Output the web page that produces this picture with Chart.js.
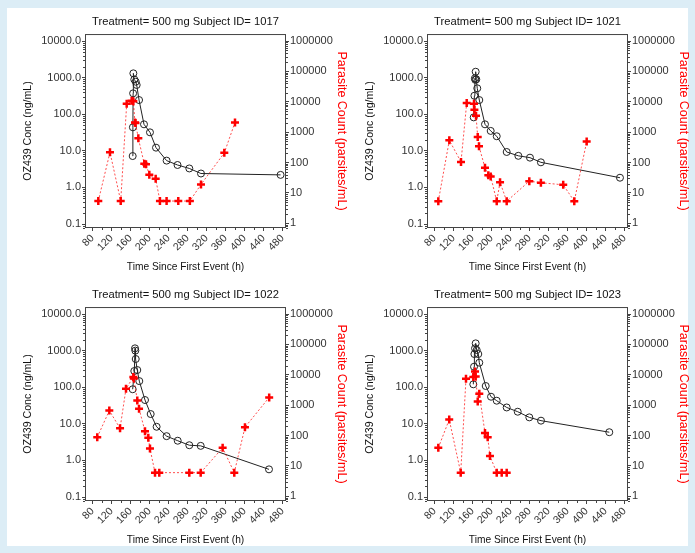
<!DOCTYPE html>
<html>
<head>
<meta charset="utf-8">
<script src="https://cdn.jsdelivr.net/npm/chart.js@4.4.0/dist/chart.umd.min.js"></script>
<style>
  html, body { margin: 0; padding: 0; }
  body { width: 695px; height: 553px; background: #dcedf6; position: relative; overflow: hidden; }
  #sheet { position: absolute; left: 7px; top: 8px; width: 681px; height: 538px; background: #fff; }
  .panel { position: absolute; width: 352px; height: 276px; }
</style>
</head>
<body>
<div id="sheet"></div>
<div class="panel" style="left:0px;top:0px"><canvas id="c1017" width="352" height="276"></canvas></div>
<div class="panel" style="left:342px;top:0px"><canvas id="c1021" width="352" height="276"></canvas></div>
<div class="panel" style="left:0px;top:273px"><canvas id="c1022" width="352" height="276"></canvas></div>
<div class="panel" style="left:342px;top:273px"><canvas id="c1023" width="352" height="276"></canvas></div>
<script>
// tick labels
const xTicks = [80, 120, 160, 200, 240, 280, 320, 360, 400, 440, 480];
const xMinor = [100, 140, 180, 220, 260, 300, 340, 380, 420, 460];
const concTicks = [0.1, 1, 10, 100, 1000, 10000];
const parTicks = [1, 10, 100, 1000, 10000, 100000, 1000000];

// Subject 1017
const concTime1017 = [164.6, 165.0, 165.5, 166.0, 168.0, 171.0, 173.0, 178.0, 188.4, 201.0, 213.7, 236.0, 259.0, 283.8, 308.4, 476.0];
const conc1017 = [7.2, 43.9, 372, 1310, 890, 773, 630, 244, 53, 32, 12.2, 5.4, 4.1, 3.3, 2.4, 2.2];
const parTime1017 = [92.2, 116.8, 139.4, 152.0, 162.5, 166.0, 169.5, 170.5, 176.5, 189.0, 192.6, 199.6, 213.0, 222.0, 236.0, 260.6, 285.0, 308.4, 357.5, 380.0];
const par1017 = [5.4, 218, 5.4, 8590, 10800, 10400, 2094, 2000, 627, 90.6, 88, 39.5, 29, 5.4, 5.4, 5.4, 5.4, 19, 208, 2094];

// Subject 1021
const concTime1021 = [162.5, 164.0, 165.0, 166.0, 166.7, 168.0, 170.0, 174.3, 186.3, 198.3, 211.0, 232.0, 256.5, 281.0, 304.0, 470.5];
const conc1021 = [82, 320, 955, 870, 1450, 900, 511, 244, 53, 35, 25, 9.3, 7.3, 6.5, 4.85, 1.84];
const parTime1021 = [88.0, 111.2, 135.8, 147.8, 163.2, 164.0, 167.4, 171.0, 173.7, 186.3, 193.3, 198.3, 211.0, 218.0, 232.0, 279.6, 304.0, 351.0, 374.3, 400.4];
const par1021 = [5.3, 538, 105, 9060, 8600, 5470, 3470, 697, 342, 67, 38, 35, 5.3, 22.6, 5.3, 24.4, 21.6, 18.5, 5.3, 489];

// Subject 1022
const concTime1022 = [164.6, 168.0, 169.5, 170.2, 171.0, 174.3, 178.5, 190.5, 202.5, 215.0, 236.0, 259.4, 283.8, 307.8, 451.6];
const conc1022 = [88, 277, 1155, 1000, 590, 295, 147, 44.7, 18.5, 8.3, 4.6, 3.45, 2.6, 2.5, 0.57];
const parTime1022 = [90.0, 115.4, 138.0, 150.5, 166.0, 167.0, 174.3, 178.0, 190.5, 197.5, 201.0, 211.6, 220.6, 283.8, 307.8, 354.0, 378.5, 401.0, 452.0];
const par1022 = [88, 661, 173, 3470, 8400, 7500, 1430, 767, 138, 84, 37.5, 6, 6, 6, 6, 39.5, 6, 187, 1800];

// Subject 1023
const concTime1023 = [161.7, 163.2, 164.0, 165.3, 166.7, 168.8, 172.2, 174.3, 187.8, 199.0, 211.0, 232.0, 255.2, 279.6, 304.2, 448.0];
const conc1023 = [120, 363, 807, 1155, 1580, 1040, 807, 468, 108, 55, 42.8, 28, 21.4, 15, 12.2, 5.9];
const parTime1023 = [88.0, 111.0, 135.2, 146.3, 161.7, 165.3, 166.7, 171.0, 174.3, 186.3, 192.0, 196.8, 211.0, 221.5, 232.0];
const par1023 = [39.5, 335, 6, 7400, 8400, 12800, 8800, 1330, 2380, 122, 88, 21, 6, 6, 6];

const FONT = '"Liberation Sans", Arial, sans-serif';
Chart.defaults.font.family = FONT;

// frame round the plot area + minor ticks
const framePlugin = {
  id: 'frame',
  afterDraw(chart) {
    const { ctx, chartArea: a, scales } = chart;
    ctx.save();
    ctx.strokeStyle = '#444';
    ctx.lineWidth = 1;
    ctx.strokeRect(a.left + 0.5, a.top + 0.5, a.right - a.left - 1, a.bottom - a.top - 1);
    ctx.beginPath();
    [scales.y, scales.y1].forEach(s => {
      for (let e = -2; e <= 7; e++) {
        for (let k = 2; k <= 9; k++) {
          const v = k * Math.pow(10, e);
          if (v < s.min || v > s.max) continue;
          const py = Math.round(s.getPixelForValue(v)) + 0.5;
          if (s.position === 'left') { ctx.moveTo(a.left - 2, py); ctx.lineTo(a.left, py); }
          else { ctx.moveTo(a.right, py); ctx.lineTo(a.right + 2, py); }
        }
      }
    });
    xMinor.forEach(v => {
      const px = Math.round(scales.x.getPixelForValue(v)) + 0.5;
      ctx.moveTo(px, a.bottom); ctx.lineTo(px, a.bottom + 2);
    });
    ctx.stroke();
    ctx.restore();
  }
};

function pts(t, v) { return t.map((x, i) => ({ x: x, y: v[i] })); }

function makePanel(id, concT, conc, parT, par) {
  new Chart(document.getElementById('c' + id), {
    type: 'line',
    data: {
      datasets: [
        {
          label: 'Parasite Count',
          data: pts(parT, par),
          yAxisID: 'y1',
          borderColor: 'rgba(255,0,0,0.7)',
          borderWidth: 1,
          borderDash: [2, 2],
          pointStyle: 'cross',
          pointRadius: 4,
          pointBorderWidth: 2.5,
          pointBorderColor: '#ff0000',
          pointBackgroundColor: '#ff0000',
          tension: 0,
          order: 0
        },
        {
          label: 'OZ439 Conc',
          data: pts(concT, conc),
          yAxisID: 'y',
          borderColor: '#222',
          borderWidth: 1,
          pointStyle: 'circle',
          pointRadius: 3.5,
          pointBorderWidth: 1,
          pointBorderColor: '#222',
          pointBackgroundColor: 'rgba(0,0,0,0)',
          tension: 0,
          order: 1
        }
      ]
    },
    options: {
      responsive: false,
      animation: false,
      layout: { padding: 0 },
      plugins: {
        legend: { display: false },
        tooltip: { enabled: false },
        title: {
          display: true,
          fullSize: false,
          text: 'Treatment= 500 mg Subject ID= ' + id,
          color: '#111',
          font: { size: 11.2, weight: 'normal' },
          padding: { top: 15.3, bottom: 5.3 }
        }
      },
      scales: {
        x: {
          type: 'linear',
          min: 64.2,
          max: 487.4,
          afterBuildTicks: s => { s.ticks = xTicks.map(v => ({ value: v })); },
          afterFit: s => { s.height = 48; },
          ticks: { autoSkip: false, minRotation: 45, maxRotation: 45, padding: 1, color: '#333', font: { size: 10.5 } },
          grid: { drawOnChartArea: false, tickLength: 3, color: '#444' },
          border: { display: false },
          title: { display: true, text: 'Time Since First Event (h)', color: '#111', font: { size: 10.2 }, padding: { top: 0, bottom: 3 } }
        },
        y: {
          type: 'logarithmic',
          position: 'left',
          min: Math.pow(10, -1.109),
          max: Math.pow(10, 4.191),
          afterBuildTicks: s => { s.ticks = concTicks.map(v => ({ value: v })); },
          afterFit: s => { s.width = 85; },
          ticks: { autoSkip: false, padding: 1, color: '#333', font: { size: 11 }, callback: v => Number(v).toFixed(1) },
          grid: { drawOnChartArea: false, tickLength: 3, color: '#444' },
          border: { display: false },
          title: { display: true, text: 'OZ439 Conc (ng/mL)', color: '#111', font: { size: 10.6 }, padding: { top: 22, bottom: 0 } }
        },
        y1: {
          type: 'logarithmic',
          position: 'right',
          min: Math.pow(10, -0.1311),
          max: Math.pow(10, 6.2295),
          afterBuildTicks: s => { s.ticks = parTicks.map(v => ({ value: v })); },
          afterFit: s => { s.width = 66; },
          ticks: { autoSkip: false, padding: 1, color: '#333', font: { size: 11 }, callback: v => String(v) },
          grid: { drawOnChartArea: false, tickLength: 3, color: '#444' },
          border: { display: false },
          title: { display: true, text: 'Parasite Count (parsites/mL)', color: '#ff0000', font: { size: 12.5 }, padding: { top: 2.8, bottom: 0 } }
        }
      }
    },
    plugins: [framePlugin]
  });
}

makePanel('1017', concTime1017, conc1017, parTime1017, par1017);
makePanel('1021', concTime1021, conc1021, parTime1021, par1021);
makePanel('1022', concTime1022, conc1022, parTime1022, par1022);
makePanel('1023', concTime1023, conc1023, parTime1023, par1023);
</script>
</body>
</html>
